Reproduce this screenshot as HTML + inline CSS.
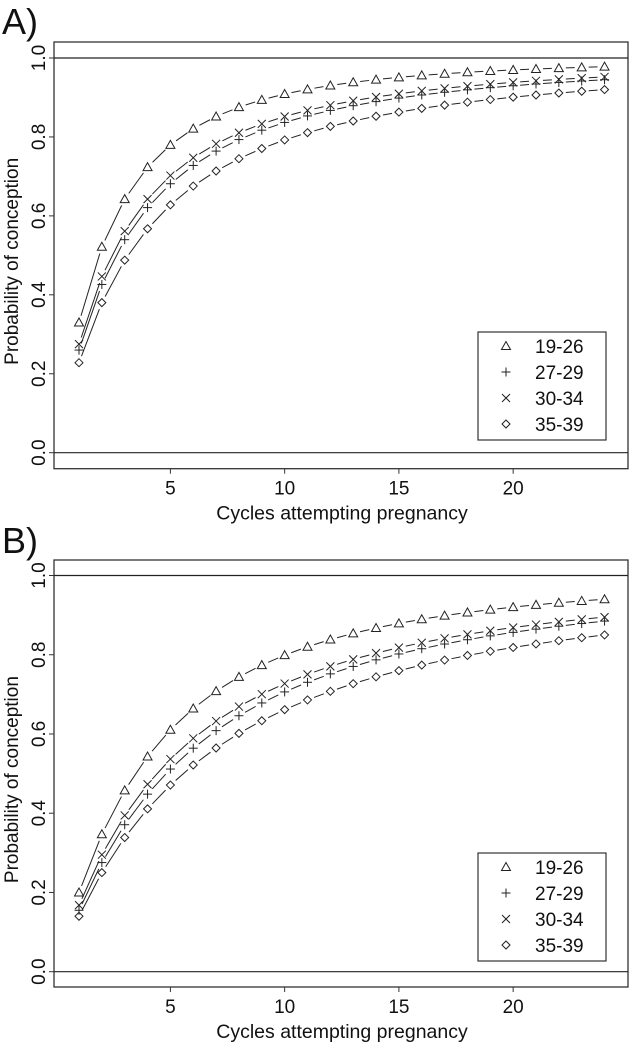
<!DOCTYPE html>
<html><head><meta charset="utf-8"><style>
html,body{margin:0;padding:0;background:#fff;}
svg{display:block;font-family:"Liberation Sans",Arial,sans-serif;}
</style></head><body>
<svg id="s" width="633" height="1048" viewBox="0 0 633 1048" xmlns="http://www.w3.org/2000/svg">
<text x="2" y="34" font-size="36" fill="#111">A)</text>
<text x="2" y="553" font-size="36" fill="#111">B)</text>
</svg>
<script>
const S=document.getElementById('s');const NS='http://www.w3.org/2000/svg';
function el(t,a,txt){const e=document.createElementNS(NS,t);for(const k in a)e.setAttribute(k,a[k]);if(txt!==undefined)e.textContent=txt;S.appendChild(e);return e;}
function curve(p1,p24){
  let best=null,bd=1e9;
  for(let c=0.5;c<60;c+=0.01){let b=(1-p1)*c,s=1,out=[];for(let i=0;i<24;i++){s*=(b+i)/(c+i);out.push(1-s);}
    const d=Math.abs(out[23]-p24);if(d<bd){bd=d;best=out;}}
  return best;
}
function marker(k,x,y){
  const st={stroke:'#222','stroke-width':1,fill:'none'};
  if(k==0)el('polygon',Object.assign({points:`${x},${y-4.5} ${x-4.5},${y+3.5} ${x+4.5},${y+3.5}`},st));
  else if(k==1){el('line',Object.assign({x1:x-4.5,y1:y,x2:x+4.5,y2:y},st));el('line',Object.assign({x1:x,y1:y-4.5,x2:x,y2:y+4.5},st));}
  else if(k==2){el('line',Object.assign({x1:x-4,y1:y-4,x2:x+4,y2:y+4},st));el('line',Object.assign({x1:x-4,y1:y+4,x2:x+4,y2:y-4},st));}
  else el('polygon',Object.assign({points:`${x},${y-4} ${x+4},${y} ${x},${y+4} ${x-4},${y}`},st));
}
function panel(top,bottom,y1,y0,legTop,params){
  const L=54,R=628;
  el('rect',{x:L,y:top,width:R-L,height:bottom-top,fill:'none',stroke:'#333','stroke-width':1.3});
  el('line',{x1:L,y1:y1,x2:R,y2:y1,stroke:'#222','stroke-width':1.2});
  el('line',{x1:L,y1:y0,x2:R,y2:y0,stroke:'#222','stroke-width':1.2});
  const X=n=>79+(n-1)*22.85, Y=v=>y0+(y1-y0)*v;
  for(let v=0;v<=5;v++){const y=Y(v*0.2);el('line',{x1:L-5,y1:y,x2:L,y2:y,stroke:'#333'});
    el('text',{x:0,y:0,'font-size':19,'text-anchor':'middle',fill:'#111',transform:`translate(45,${y}) rotate(-90)`},(v*0.2).toFixed(1));}
  for(const n of [5,10,15,20]){el('line',{x1:X(n),y1:bottom,x2:X(n),y2:bottom+5,stroke:'#333'});
    el('text',{x:X(n),y:bottom+26,'font-size':19,'text-anchor':'middle',fill:'#111'},n);}
  el('text',{x:342,y:bottom+51,'font-size':19.5,'text-anchor':'middle',fill:'#111'},'Cycles attempting pregnancy');
  el('text',{x:0,y:0,'font-size':19,'text-anchor':'middle',fill:'#111',transform:`translate(18,${(y0+y1)/2+6}) rotate(-90)`},'Probability of conception');
  params.forEach((p,k)=>{const c=curve(p[0],p[1]);
    for(let i=0;i<23;i++){const ax=X(i+1),ay=Y(c[i]),bx=X(i+2),by=Y(c[i+1]);const dx=bx-ax,dy=by-ay,d=Math.hypot(dx,dy);
      if(d>15)el('line',{x1:ax+dx/d*7,y1:ay+dy/d*7,x2:bx-dx/d*7,y2:by-dy/d*7,stroke:'#222','stroke-width':1});}
    for(let i=0;i<24;i++)marker(k,X(i+1),Y(c[i]));});
  el('rect',{x:478,y:legTop,width:128,height:108,fill:'#fff',stroke:'#333','stroke-width':1.2});
  ['19-26','27-29','30-34','35-39'].forEach((t,k)=>{const y=legTop+14+k*26;marker(k,506,y);
    el('text',{x:535,y:y+7,'font-size':19,fill:'#111'},t);});
}
panel(42,468.7,58,452.7,332,[[0.33,0.978],[0.26,0.945],[0.275,0.952],[0.228,0.92]]);
panel(560,987,575.5,971.7,853,[[0.20,0.94],[0.155,0.885],[0.168,0.895],[0.14,0.85]]);
</script>
</body></html>
